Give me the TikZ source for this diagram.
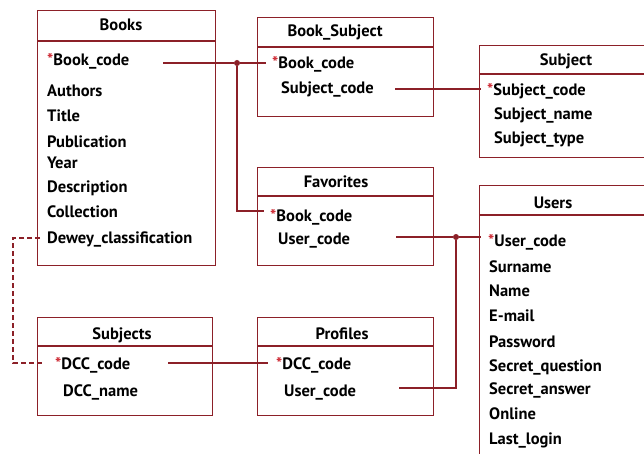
\documentclass[tikz,border=0pt]{standalone}
\usepackage{fontspec}
\setmainfont{PT Sans}
\definecolor{erd}{RGB}{140,32,40}
\definecolor{pk}{RGB}{205,40,50}
\newcommand{\pkstar}{\textcolor{pk}{*}}
\begin{document}
\begin{tikzpicture}[x=1pt,y=-1pt,
  tbl/.style={draw=erd, line width=1.1pt, inner sep=0, anchor=north west},
  hdr/.style={draw=erd, line width=1.1pt},
  fld/.style={anchor=base west, inner sep=0, font=\bfseries\fontsize{16.5}{18}\selectfont},
  ttl/.style={anchor=base, inner sep=0, font=\bfseries\fontsize{16.5}{18}\selectfont},
  link/.style={draw=erd, line width=1.1pt},
  dlink/.style={draw=erd, line width=1.1pt, dash pattern=on 5pt off 3pt},
  jn/.style={circle, fill=erd, inner sep=0, minimum size=6pt}]
\fill[white] (0,0) rectangle (644,454);
\useasboundingbox (0,0) rectangle (644,454);
\clip (0,0) rectangle (644,454);

% ---------- Books
\node[tbl, minimum width=178pt, minimum height=255pt] (books) at (37,10) {};
\draw[hdr] (37,41) -- (215,41);
\node[ttl] (booksT) at (121,31) {Books};
\node[fld] (bBook) at (47,66) {\pkstar Book\_code};
\node[fld] (bAuth) at (47,97) {Authors};
\node[fld] (bTitle) at (47,122) {Title};
\node[fld] (bPub) at (47,148) {Publication};
\node[fld] (bYear) at (47,169) {Year};
\node[fld] (bDesc) at (47,193) {Description};
\node[fld] (bColl) at (47,218) {Collection};
\node[fld] (bDew) at (47,243) {Dewey\_classification};

% ---------- Book_Subject
\node[tbl, minimum width=176pt, minimum height=99pt] (bs) at (257,17) {};
\draw[hdr] (257,47) -- (433,47);
\node[ttl] (bsT) at (335,37) {Book\_Subject};
\node[fld] (bsBook) at (272,69) {\pkstar Book\_code};
\node[fld] (bsSubj) at (281,94) {Subject\_code};

% ---------- Subject
\node[tbl, minimum width=200pt, minimum height=112pt] (subj) at (479,45) {};
\draw[hdr] (479,74) -- (679,74);
\node[ttl] (subjT) at (566,66) {Subject};
\node[fld] (sCode) at (487,96) {\pkstar Subject\_code};
\node[fld] (sName) at (494,120) {Subject\_name};
\node[fld] (sType) at (494,144) {Subject\_type};

% ---------- Favorites
\node[tbl, minimum width=176pt, minimum height=98pt] (fav) at (257,167) {};
\draw[hdr] (257,196) -- (433,196);
\node[ttl] (favT) at (336,188) {Favorites};
\node[fld] (fBook) at (270,222) {\pkstar Book\_code};
\node[fld] (fUser) at (278,244) {User\_code};

% ---------- Users
\node[tbl, minimum width=200pt, minimum height=300pt] (users) at (479,185) {};
\draw[hdr] (479,215) -- (679,215);
\node[ttl] (usersT) at (553,208) {Users};
\node[fld] (uCode) at (488,246) {\pkstar User\_code};
\node[fld] (uSur) at (489,272) {Surname};
\node[fld] (uName) at (489,296) {Name};
\node[fld] (uMail) at (489,321) {E-mail};
\node[fld] (uPass) at (489,347) {Password};
\node[fld] (uSQ) at (489,371) {Secret\_question};
\node[fld] (uSA) at (489,394) {Secret\_answer};
\node[fld] (uOn) at (489,419) {Online};
\node[fld] (uLast) at (489,444) {Last\_login};

% ---------- Subjects
\node[tbl, minimum width=175pt, minimum height=98pt] (subs) at (37,317) {};
\draw[hdr] (37,346) -- (212,346);
\node[ttl] (subsT) at (122,339) {Subjects};
\node[fld] (ssCode) at (55,369) {\pkstar DCC\_code};
\node[fld] (ssName) at (63,396) {DCC\_name};

% ---------- Profiles
\node[tbl, minimum width=176pt, minimum height=98pt] (prof) at (257,317) {};
\draw[hdr] (257,346) -- (433,346);
\node[ttl] (profT) at (342,339) {Profiles};
\node[fld] (pCode) at (276,369) {\pkstar DCC\_code};
\node[fld] (pUser) at (284,396) {User\_code};

% ---------- connectors
\coordinate (c1s) at (163,63);
\node[jn] (j1) at (237,63) {};
\coordinate (c1e) at (266,63);
\coordinate (c1c) at (237,211);
\coordinate (c1f) at (264,211);
\draw[link] (c1s) -- (j1) -- (c1e);
\draw[link] (j1) -- (c1c) -- (c1f);

\coordinate (c2s) at (395,89);
\coordinate (c2e) at (481,89);
\draw[link] (c2s) -- (c2e);

\coordinate (c3s) at (396,237);
\node[jn] (j2) at (456,237) {};
\coordinate (c3e) at (481,237);
\coordinate (c3c) at (456,388);
\coordinate (c3p) at (399,388);
\draw[link] (c3s) -- (j2) -- (c3e);
\draw[link] (j2) -- (c3c) -- (c3p);

\coordinate (c4s) at (168,363);
\coordinate (c4e) at (268,363);
\draw[link] (c4s) -- (c4e);

\coordinate (d1) at (40,238);
\coordinate (d2) at (13,238);
\coordinate (d3) at (13,363);
\coordinate (d4) at (44,363);
\draw[dlink] (d1) -- (d2) -- (d3) -- (d4);
\end{tikzpicture}
\end{document}
